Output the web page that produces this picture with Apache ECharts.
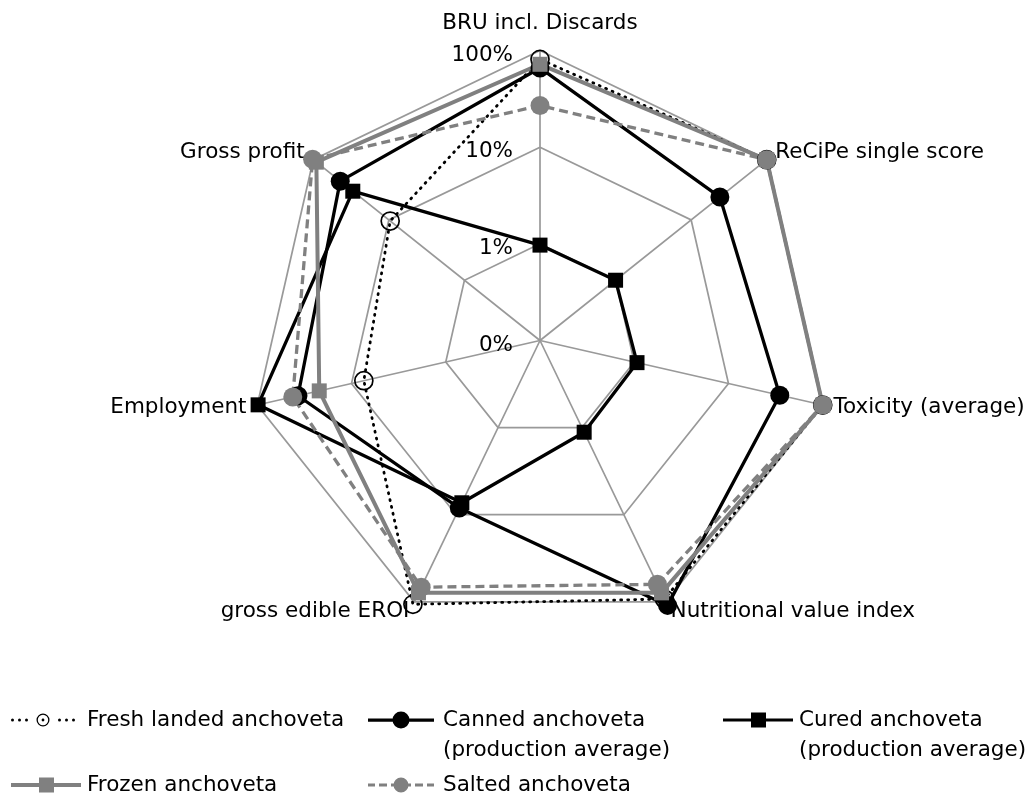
<!DOCTYPE html>
<html><head><meta charset="utf-8">
<script src="https://cdn.jsdelivr.net/npm/echarts@6/dist/echarts.min.js"></script>
<style>html,body{margin:0;padding:0;background:#fff}#c{width:1033px;height:801px}</style>
</head><body><div id="c"></div>
<script>
// Axes listed clockwise from the top
const categories = ['BRU incl. Discards', 'ReCiPe single score', 'Toxicity (average)', 'Nutritional value index', 'gross edible EROI', 'Employment', 'Gross profit'];
const tickLabels = ['0%', '1%', '10%', '100%'];
const seriesNames = ['Fresh landed anchoveta', 'Canned anchoveta\n(production average)', 'Cured anchoveta\n(production average)', 'Frozen anchoveta', 'Salted anchoveta'];
// values in percent (log radial scale, centre = 0.1%)
const fresh  = [81, 100, 100, 93, 107, 7.4, 9.6];
const canned = [66, 24, 35, 110, 8.4, 37, 44];
const cured  = [0.97, 1.0, 1.07, 1.13, 7.3, 98, 30];
const frozen = [72, 100, 100, 79, 79, 22, 91];
const salted = [27, 100, 100, 63, 68, 42, 102];

const seriesValues = [fresh, canned, cured, frozen, salted];
const FONT = 'DejaVu Sans';
const FS = 21.5;
// ECharts radar runs counter-clockwise; reorder so the picture runs clockwise
const order = [0, 6, 5, 4, 3, 2, 1];
const toDecades = p => Math.log10(p / 0.1);

const styles = [
  {symbol: 'circle', symbolSize: 18, lineStyle: {color: '#000', width: 2.8, type: [1, 6], cap: 'round'}, itemStyle: {color: 'rgba(0,0,0,0)', borderColor: '#000', borderWidth: 1.7}},
  {symbol: 'circle', symbolSize: 19, lineStyle: {color: '#000', width: 3.3}, itemStyle: {color: '#000'}},
  {symbol: 'rect', symbolSize: 15, lineStyle: {color: '#000', width: 3.3}, itemStyle: {color: '#000'}},
  {symbol: 'rect', symbolSize: 15, lineStyle: {color: '#808080', width: 4}, itemStyle: {color: '#808080'}},
  {symbol: 'circle', symbolSize: 19, lineStyle: {color: '#808080', width: 3.3, type: [9, 5]}, itemStyle: {color: '#808080'}}
];

// legend icon paths
function rectP(x, y, w, h) { return 'M' + x + ' ' + y + 'h' + w + 'v' + h + 'h' + (-w) + 'Z'; }
function circP(cx, cy, r, ccw) {
  const s = ccw ? 0 : 1;
  return 'M' + (cx + r) + ' ' + cy + 'A' + r + ' ' + r + ' 0 1 ' + s + ' ' + (cx - r) + ' ' + cy +
         'A' + r + ' ' + r + ' 0 1 ' + s + ' ' + (cx + r) + ' ' + cy + 'Z';
}
const iconFresh = 'path://' + [1.5, 8.5, 15.5, 48.5, 55.5, 62.5].map(x => circP(x, 6.5, 1.5)).join('') +
  circP(32, 6.5, 6.5) + circP(32, 6.5, 5.2, true) + circP(32, 6.5, 1.4);
const iconCanned = 'path://' + rectP(0, 7, 66, 3.2) + circP(33, 8.5, 8.5);
const iconCured = 'path://' + rectP(0, 5.9, 70, 3.2) + rectP(28, 0, 15, 15);
const iconFrozen = 'path://' + rectP(0, 5.5, 70, 4) + rectP(28, 0, 15, 15);
const iconSalted = 'path://' + [[0, 7], [11, 19], [23, 26], [40, 43], [47, 55], [59, 66]].map(d => rectP(d[0], 5.9, d[1] - d[0], 3.2)).join('') + circP(33, 7.5, 7.5);

const legendDefs = [
  {k: 0, icon: iconFresh, w: 64, h: 13, left: 11, top: 705, pad: 7, color: '#000'},
  {k: 1, icon: iconCanned, w: 66, h: 17, left: 368, top: 675, pad: 4, color: '#000'},
  {k: 2, icon: iconCured, w: 70, h: 15, left: 723, top: 675, pad: 1, color: '#000'},
  {k: 3, icon: iconFrozen, w: 70, h: 15, left: 11, top: 770, pad: 1, color: '#808080'},
  {k: 4, icon: iconSalted, w: 66, h: 15, left: 368, top: 770, pad: 4, color: '#808080'}
];

const chart = echarts.init(document.getElementById('c'), null, {renderer: 'canvas'});
chart.setOption({
  backgroundColor: '#fff',
  animation: false,
  textStyle: {fontFamily: FONT},
  legend: legendDefs.map(d => ({
    left: d.left, top: d.top, padding: 0, selectedMode: false,
    itemWidth: d.w, itemHeight: d.h, icon: d.icon, symbolKeepAspect: true,
    data: [{name: seriesNames[d.k], icon: d.icon, itemStyle: {color: d.color, borderWidth: 0}}],
    formatter: n => (n.indexOf('\n') >= 0 ? '\n' + n : n),
    textStyle: {color: '#000', fontFamily: FONT, fontSize: FS, lineHeight: 30, padding: [0, 0, 0, d.pad]}
  })),
  radar: {
    center: [540, 340.5],
    radius: 290,
    startAngle: 90,
    shape: 'polygon',
    splitNumber: 3,
    nameGap: 11,
    axisName: {color: '#000', fontFamily: FONT, fontSize: FS},
    indicator: order.map(i => Object.assign({name: categories[i], min: 0, max: 3},
      i === 0 ? {axisLabel: {show: true}, nameGap: 16} : {})),
    axisLine: {show: true, lineStyle: {color: '#999999', width: 1.7}},
    splitLine: {show: true, lineStyle: {color: '#999999', width: 1.7}},
    splitArea: {show: false},
    axisTick: {show: false},
    axisLabel: {show: false, color: '#000', fontFamily: FONT, fontSize: FS, margin: 27,
      formatter: v => '{t|' + tickLabels[Math.round(v)] + '}',
      rich: {t: {color: '#000', fontFamily: FONT, fontSize: FS, padding: [9, 0, 0, 0]}}}
  },
  series: [{
    type: 'radar',
    data: seriesValues.map((vals, k) => Object.assign({
      name: seriesNames[k],
      value: order.map(i => toDecades(vals[i]))
    }, styles[k]))
  }]
});
</script>
</body></html>
